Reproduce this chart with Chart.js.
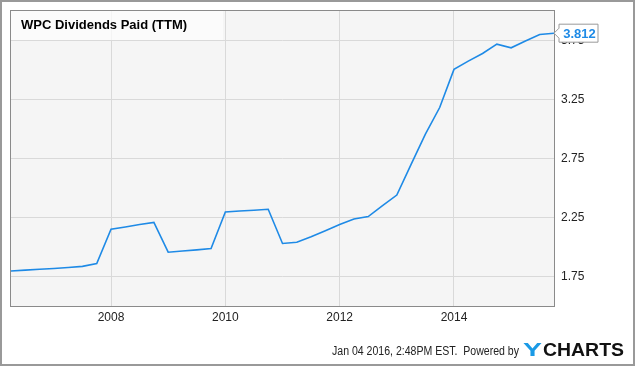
<!DOCTYPE html>
<html>
<head>
<meta charset="utf-8">
<script src="https://cdn.jsdelivr.net/npm/chart.js@4/dist/chart.umd.min.js"></script>
<style>
  html, body { margin: 0; padding: 0; background: #fff; }
  #wrap { position: relative; width: 635px; height: 366px; }
  canvas { display: block; }
</style>
</head>
<body>
<div id="wrap"><canvas id="c" width="635" height="366"></canvas></div>
<script>
// Quarter ends as decimal years
const quarters = [
  2006.25, 2006.5, 2006.75, 2007.0, 2007.25, 2007.5, 2007.75,
  2008.0, 2008.25, 2008.5, 2008.75, 2009.0, 2009.25, 2009.5, 2009.75,
  2010.0, 2010.25, 2010.5, 2010.75, 2011.0, 2011.25, 2011.5, 2011.75,
  2012.0, 2012.25, 2012.5, 2012.75, 2013.0, 2013.25, 2013.5, 2013.75,
  2014.0, 2014.25, 2014.5, 2014.75, 2015.0, 2015.25, 2015.5, 2015.75
];
const dividends = [
  1.797, 1.804, 1.811, 1.818, 1.826, 1.836, 1.860,
  2.151, 2.170, 2.190, 2.208, 1.956, 1.966, 1.976, 1.987,
  2.297, 2.305, 2.312, 2.320, 2.030, 2.040, 2.086, 2.138,
  2.190, 2.238, 2.258, 2.350, 2.440, 2.700, 2.956, 3.182,
  3.505, 3.575, 3.640, 3.719, 3.688, 3.745, 3.801, 3.812
];
const yearTicks = [2008, 2010, 2012, 2014];
const valueTicks = [1.75, 2.25, 2.75, 3.25, 3.75];
const lastLabel = '3.812';
const chartTitle = 'WPC Dividends Paid (TTM)';

const LINE = '#1e8ae6';
const FONT = '"Liberation Sans", Arial, sans-serif';

// squeeze/stretch a string to a given width
function fitText(ctx, text, x, y, width) {
  const w = ctx.measureText(text).width;
  ctx.save();
  ctx.translate(x, y);
  ctx.scale(width / w, 1);
  ctx.fillText(text, 0, 0);
  ctx.restore();
}

// Frame, title box, value flag and footer
const decor = {
  id: 'decor',
  beforeDraw(chart) {
    const ctx = chart.ctx, a = chart.chartArea;
    ctx.save();
    ctx.fillStyle = '#fff';
    ctx.fillRect(0, 0, chart.width, chart.height);
    ctx.fillStyle = '#f5f5f5';
    ctx.fillRect(a.left, a.top, a.right - a.left, a.bottom - a.top);
    ctx.restore();
  },
  afterDatasetsDraw(chart) {
    const ctx = chart.ctx, a = chart.chartArea;
    ctx.save();
    // plot border
    ctx.strokeStyle = '#8a8a8a';
    ctx.lineWidth = 1;
    ctx.strokeRect(a.left - 0.5, a.top - 0.5, a.right - a.left + 1, a.bottom - a.top + 1);
    // outer border
    ctx.strokeStyle = '#999';
    ctx.lineWidth = 2;
    ctx.strokeRect(1, 1, chart.width - 2, chart.height - 2);
    // title box
    ctx.fillStyle = 'rgba(252,252,252,0.75)';
    ctx.fillRect(a.left, a.top, 212, 29);
    ctx.fillStyle = '#000';
    ctx.font = 'bold 13px ' + FONT;
    ctx.textBaseline = 'middle';
    ctx.fillText(chartTitle, 21, 25);

    // value flag at the last point
    const meta = chart.getDatasetMeta(0);
    const p = meta.data[meta.data.length - 1];
    const bx = p.x + 5, by = p.y - 9, bw = 39, bh = 18;
    ctx.beginPath();
    ctx.moveTo(p.x, p.y);
    ctx.lineTo(bx, by + 4);
    ctx.lineTo(bx, by);
    ctx.lineTo(bx + bw, by);
    ctx.lineTo(bx + bw, by + bh);
    ctx.lineTo(bx, by + bh);
    ctx.lineTo(bx, by + bh - 4);
    ctx.closePath();
    ctx.fillStyle = '#fff';
    ctx.fill();
    ctx.strokeStyle = '#999';
    ctx.lineWidth = 1;
    ctx.stroke();
    ctx.fillStyle = LINE;
    ctx.font = 'bold 13px ' + FONT;
    ctx.textAlign = 'center';
    ctx.fillText(lastLabel, bx + bw / 2 + 1, p.y + 1);

    // footer
    ctx.textAlign = 'left';
    ctx.fillStyle = '#222';
    ctx.font = '12px ' + FONT;
    fitText(ctx, 'Jan 04 2016, 2:48PM EST.  Powered by', 332, 352, 187);
    ctx.font = 'bold 19px ' + FONT;
    ctx.fillStyle = '#1a9ae6';
    fitText(ctx, 'Y', 523, 351, 19);
    ctx.fillStyle = '#111';
    fitText(ctx, 'CHARTS', 543, 351, 81);
    ctx.restore();
  }
};

new Chart(document.getElementById('c'), {
  type: 'line',
  data: {
    datasets: [{
      data: quarters.map((q, i) => ({ x: q, y: dividends[i] })),
      borderColor: LINE,
      borderWidth: 1.6,
      pointRadius: 0,
      tension: 0,
      fill: false
    }]
  },
  options: {
    responsive: false,
    animation: false,
    events: [],
    layout: { padding: { left: 11, top: 11, right: 0, bottom: 0 } },
    plugins: { legend: { display: false }, tooltip: { enabled: false } },
    scales: {
      x: {
        type: 'linear',
        min: 2006.25,
        max: 2015.75,
        afterBuildTicks: s => { s.ticks = yearTicks.map(v => ({ value: v })); },
        afterFit: s => { s.height = 60; s.paddingLeft = 0; s.paddingRight = 0; },
        grid: { color: '#d9d9d9', drawTicks: false },
        border: { display: false },
        ticks: {
          padding: 4,
          color: '#222',
          font: { family: FONT, size: 12 },
          callback: v => String(v)
        }
      },
      y: {
        position: 'right',
        min: 1.5,
        max: 4.0,
        afterBuildTicks: s => { s.ticks = valueTicks.map(v => ({ value: v })); },
        afterFit: s => { s.width = 81; s.paddingTop = 0; s.paddingBottom = 0; },
        grid: { color: '#d9d9d9', drawTicks: false },
        border: { display: false },
        ticks: {
          padding: 7,
          color: '#222',
          font: { family: FONT, size: 12 },
          callback: v => v.toFixed(2)
        }
      }
    }
  },
  plugins: [decor]
});
</script>
</body>
</html>
